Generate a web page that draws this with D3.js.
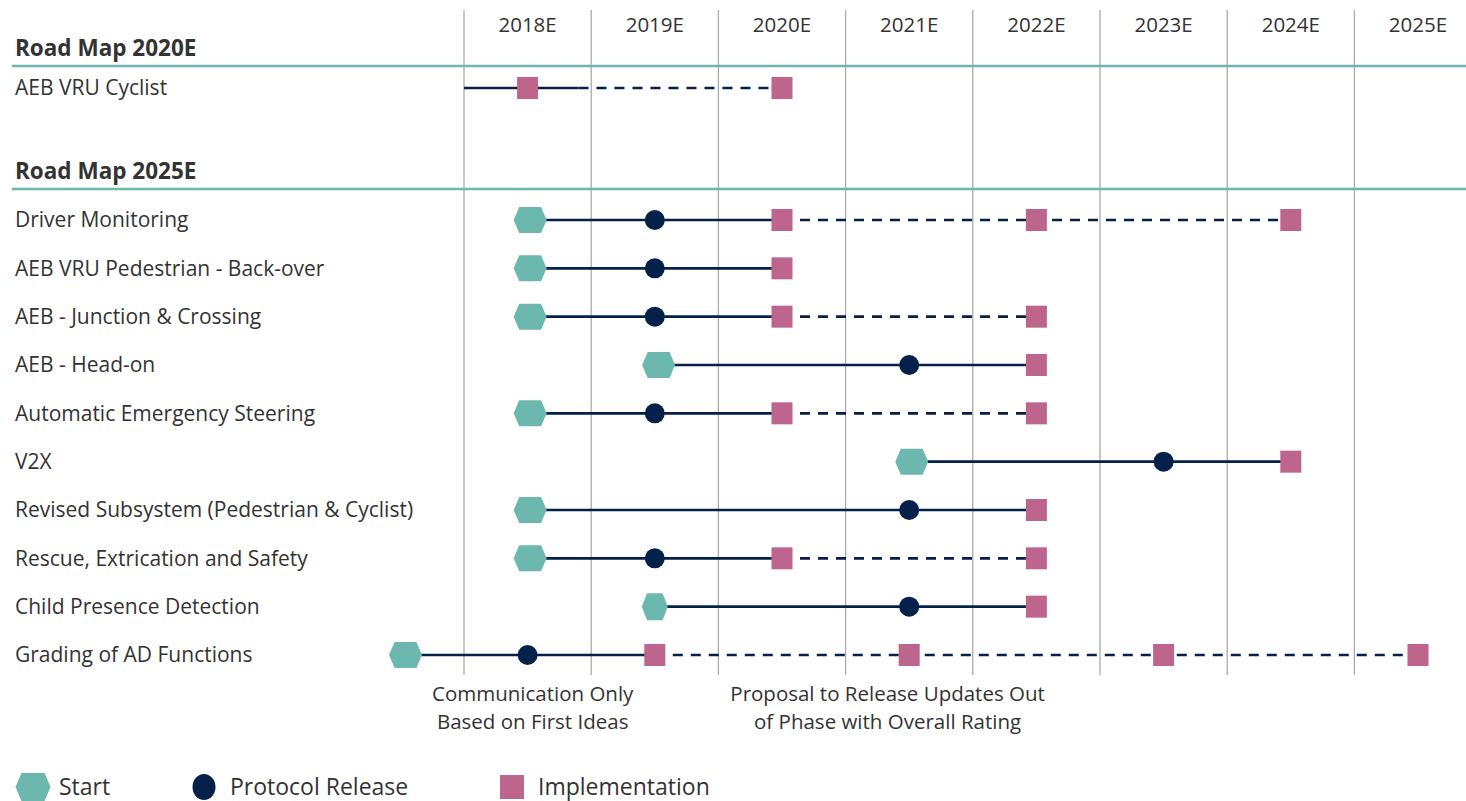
<!DOCTYPE html>
<html>
<head>
<meta charset="utf-8">
<script src="https://cdn.jsdelivr.net/npm/d3@7"></script>
<style>
    body { margin: 0; background: #fff; }
    #roadmap { width: 1466px; height: 801px; }
    text { font-family: "Open Sans", sans-serif; fill: #333; }
</style>
</head>
<body>
<div id="roadmap"></div>
<script>
// Year columns shown across the top
const years = [2018, 2019, 2020, 2021, 2022, 2023, 2024, 2025];
const yearLabels = ["2018E", "2019E", "2020E", "2021E", "2022E", "2023E", "2024E", "2025E"];

// Sections and their rows
const sections = ["Road Map 2020E", "Road Map 2025E"];
const roadMap2020 = ["AEB VRU Cyclist"];
const roadMap2025 = [
    "Driver Monitoring",
    "AEB VRU Pedestrian - Back-over",
    "AEB - Junction & Crossing",
    "AEB - Head-on",
    "Automatic Emergency Steering",
    "V2X",
    "Revised Subsystem (Pedestrian & Cyclist)",
    "Rescue, Extrication and Safety",
    "Child Presence Detection",
    "Grading of AD Functions"
];

// Milestones for the 2025E rows (in year units, 2018 = start of 2018E column)
const startYear = [2018.52, 2018.52, 2018.52, 2019.53, 2018.52, 2021.52, 2018.52, 2018.52, 2019.5, 2017.54];
const releaseYear = [2019.5, 2019.5, 2019.5, 2021.5, 2019.5, 2023.5, 2021.5, 2019.5, 2021.5, 2018.5];
const implementationYears = [
    [2020.5, 2022.5, 2024.5],
    [2020.5],
    [2020.5, 2022.5],
    [2022.5],
    [2020.5, 2022.5],
    [2024.5],
    [2022.5],
    [2020.5, 2022.5],
    [2022.5],
    [2019.5, 2021.5, 2023.5, 2025.5]
];

// 2020E row
const cyclistImplementation = [2018.5, 2020.5];
const cyclistSolidSpan = [2018.0, 2018.9];

// Notes under the chart
const noteLines = [
    ["Communication Only", "Based on First Ideas"],
    ["Proposal to Release Updates Out", "of Phase with Overall Rating"]
];
const noteYears = [2018.54, 2021.33];

const legendLabels = ["Start", "Protocol Release", "Implementation"];

const colors = {
    teal: "#6db8ae",
    navy: "#05214a",
    pink: "#be658d",
    grid: "#ababab",
    text: "#333333"
};

const width = 1466, height = 801;

const svg = d3.select("#roadmap")
    .append("svg")
    .attr("width", width)
    .attr("height", height);

const x = d3.scaleLinear()
    .domain([2018, 2026])
    .range([464, 464 + 8 * 127.2]);

const y = d3.scalePoint()
    .domain(roadMap2025)
    .range([220, 655]);

const cyclistY = 88;
const headerY = [48, 171];
const ruleY = [66, 189];

// hexagon path helper
function hexPath(w, h, inset) {
    const a = w * inset;
    return `M${-w / 2},0 L${-a},${-h / 2} L${a},${-h / 2} L${w / 2},0 L${a},${h / 2} L${-a},${h / 2} Z`;
}

// vertical grid
svg.selectAll("line.grid")
    .data(years)
    .enter()
    .append("line")
    .attr("class", "grid")
    .attr("x1", d => x(d))
    .attr("x2", d => x(d))
    .attr("y1", 10)
    .attr("y2", 675)
    .style("stroke", colors.grid)
    .style("stroke-width", 1.3);

// year labels
svg.selectAll("text.year")
    .data(years)
    .enter()
    .append("text")
    .attr("class", "year")
    .attr("x", d => x(d + 0.5))
    .attr("y", 25)
    .attr("dy", "0.35em")
    .attr("text-anchor", "middle")
    .style("font-size", "20.5px")
    .text((d, i) => yearLabels[i]);

// section headers and teal rules
sections.forEach((s, i) => {
    svg.append("text")
        .attr("x", 15)
        .attr("y", headerY[i])
        .attr("dy", "0.35em")
        .style("font-size", "22.5px")
        .style("font-weight", "bold")
        .text(s);
    svg.append("line")
        .attr("x1", 12)
        .attr("x2", width)
        .attr("y1", ruleY[i])
        .attr("y2", ruleY[i])
        .style("stroke", colors.teal)
        .style("stroke-width", 2.5);
});

// row labels
svg.append("text")
    .attr("x", 15)
    .attr("y", cyclistY)
    .attr("dy", "0.35em")
    .style("font-size", "21px")
    .text(roadMap2020[0]);

svg.selectAll("text.row")
    .data(roadMap2025)
    .enter()
    .append("text")
    .attr("class", "row")
    .attr("x", 15)
    .attr("y", d => y(d))
    .attr("dy", "0.35em")
    .style("font-size", "21px")
    .text(d => d);

const lines = svg.append("g");
const marks = svg.append("g");

function connector(x1, x2, yy, dashed) {
    lines.append("line")
        .attr("x1", x(x1))
        .attr("x2", x(x2))
        .attr("y1", yy)
        .attr("y2", yy)
        .style("stroke", colors.navy)
        .style("stroke-width", 2.6)
        .style("stroke-dasharray", dashed ? "10,8" : null);
}

// 2020E row
connector(cyclistSolidSpan[0], cyclistSolidSpan[1], cyclistY, false);
connector(cyclistSolidSpan[1], d3.max(cyclistImplementation), cyclistY, true);
marks.selectAll("rect.cyc")
    .data(cyclistImplementation)
    .enter()
    .append("rect")
    .attr("class", "cyc")
    .attr("x", d => x(d) - 10.5)
    .attr("y", cyclistY - 11)
    .attr("width", 21)
    .attr("height", 22)
    .style("fill", colors.pink);

// 2025E rows
roadMap2025.forEach((name, i) => {
    const yy = y(name);
    const impl = implementationYears[i];
    connector(startYear[i], impl[0], yy, false);
    if (impl.length > 1) connector(impl[0], d3.max(impl), yy, true);

    const narrow = name === "Child Presence Detection";
    marks.append("path")
        .attr("d", narrow ? hexPath(26, 27, 0.3) : hexPath(33, 26, 0.33))
        .attr("transform", `translate(${x(startYear[i])},${yy})`)
        .style("fill", colors.teal);

    marks.append("circle")
        .attr("cx", x(releaseYear[i]))
        .attr("cy", yy)
        .attr("r", 10)
        .style("fill", colors.navy);

    marks.selectAll(null)
        .data(impl)
        .enter()
        .append("rect")
        .attr("x", d => x(d) - 10.5)
        .attr("y", yy - 11)
        .attr("width", 21)
        .attr("height", 22)
        .style("fill", colors.pink);
});

// notes under the chart
noteLines.forEach((pair, i) => {
    svg.append("text")
        .attr("x", x(noteYears[i]))
        .attr("y", 694)
        .attr("text-anchor", "middle")
        .style("font-size", "20.5px")
        .selectAll("tspan")
        .data(pair)
        .enter()
        .append("tspan")
        .attr("x", x(noteYears[i]))
        .attr("dy", (d, j) => j === 0 ? "0.35em" : "28px")
        .text(d => d);
});

// legend
const legendY = 787;
const legendX = [33, 204, 512];
const legend = svg.append("g");
legend.append("path")
    .attr("d", hexPath(35, 28, 0.33))
    .attr("transform", `translate(${legendX[0]},${legendY})`)
    .style("fill", colors.teal);
legend.append("ellipse")
    .attr("cx", legendX[1])
    .attr("cy", legendY)
    .attr("rx", 11.5)
    .attr("ry", 13)
    .style("fill", colors.navy);
legend.append("rect")
    .attr("x", legendX[2] - 12)
    .attr("y", legendY - 12)
    .attr("width", 24)
    .attr("height", 24)
    .style("fill", colors.pink);
legend.selectAll("text")
    .data(legendLabels)
    .enter()
    .append("text")
    .attr("x", (d, i) => legendX[i] + 26)
    .attr("y", legendY)
    .attr("dy", "0.35em")
    .style("font-size", "23px")
    .text(d => d);
</script>
</body>
</html>
